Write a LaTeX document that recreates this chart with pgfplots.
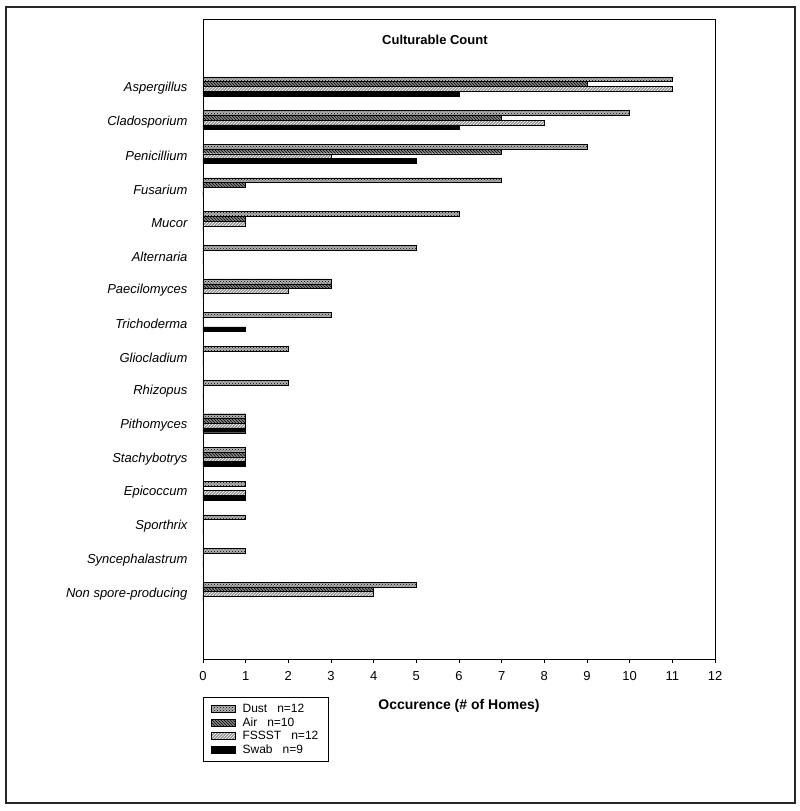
\documentclass[border=0pt]{standalone}
\usepackage{pgfplots}
\pgfplotsset{compat=1.18}
\usetikzlibrary{patterns}
\usepackage{fontspec}
\setmainfont{Liberation Sans}
\begin{document}
\begin{tikzpicture}[x=1pt,y=1pt]
\path (-203,-152) rectangle (597,659);
\draw[line width=2pt, black!85] (-197,-144) rectangle (592,652);
\begin{axis}[
  at={(0,0)}, anchor=south west,
  scale only axis, width=512pt, height=640pt,
  xbar=0pt, bar width=4.75pt,
  xmin=0, xmax=12, ymin=-2, ymax=17,
  y dir=reverse,
  xtick={0,...,12}, xtick pos=left, xtick align=outside,
  major tick length=4pt,
  ytick={0,...,15},
  yticklabels={Aspergillus,Cladosporium,Penicillium,Fusarium,Mucor,Alternaria,Paecilomyces,Trichoderma,Gliocladium,Rhizopus,Pithomyces,Stachybotrys,Epicoccum,Sporthrix,Syncephalastrum,Non spore-producing},
  yticklabel style={font=\fontsize{13}{15}\selectfont\itshape, xshift=-8pt, yshift=-2pt},
  ytick style={draw=none},
  xticklabel style={font=\fontsize{13}{15}\selectfont, yshift=-5pt},
  /pgf/number format/assume math mode=true,
  axis line style={black, line width=0.8pt},
  tick style={black, line width=0.8pt},
  xlabel={\bfseries Occurence (\# of Homes)},
  xlabel style={font=\fontsize{14}{16}\selectfont, yshift=-12pt},
  legend style={at={(rel axis cs:0,-0.059)}, anchor=north west, draw=black, line width=0.5pt,
    font=\fontsize{12}{13.5}\selectfont, row sep=-0.5pt, column sep=5pt, inner xsep=8pt, inner ysep=5pt,
    cells={anchor=west}},
  legend image code/.code={\draw[#1, line width=0.4pt] (0pt,-3.5pt) rectangle (24pt,3.5pt);},
  legend cell align=left,
]
\addplot[bar shift=7.125pt, draw=black, line width=0.4pt, fill=gray!60, postaction={pattern=crosshatch dots, pattern color=black}] coordinates {
(11,0) (10,1) (9,2) (7,3) (6,4) (5,5) (3,6) (3,7) (2,8) (2,9) (1,10) (1,11) (1,12) (1,13) (1,14) (5,15)};
\addplot[bar shift=2.375pt, draw=black, line width=0.4pt, fill=gray!95, postaction={pattern=north west lines, pattern color=black}] coordinates {
(9,0) (7,1) (7,2) (1,3) (1,4) (0,5) (3,6) (0,7) (0,8) (0,9) (1,10) (1,11) (0,12) (0,13) (0,14) (4,15)};
\addplot[bar shift=-2.375pt, draw=black, line width=0.4pt, fill=gray!85, postaction={pattern=north east lines, pattern color=white}] coordinates {
(11,0) (8,1) (3,2) (0,3) (1,4) (0,5) (2,6) (0,7) (0,8) (0,9) (1,10) (1,11) (1,12) (0,13) (0,14) (4,15)};
\addplot[bar shift=-7.125pt, draw=black, line width=0.4pt, fill=black] coordinates {
(6,0) (6,1) (5,2) (0,3) (0,4) (0,5) (0,6) (1,7) (0,8) (0,9) (1,10) (1,11) (1,12) (0,13) (0,14) (0,15)};
\legend{Dust\ \ \ n=12, Air\ \ \ n=10, FSSST\ \ \ n=12, Swab\ \ \ n=9}
\node[font=\fontsize{13}{15}\selectfont\bfseries] at (rel axis cs:0.453,0.967) {Culturable Count};
\end{axis}
\end{tikzpicture}
\end{document}
